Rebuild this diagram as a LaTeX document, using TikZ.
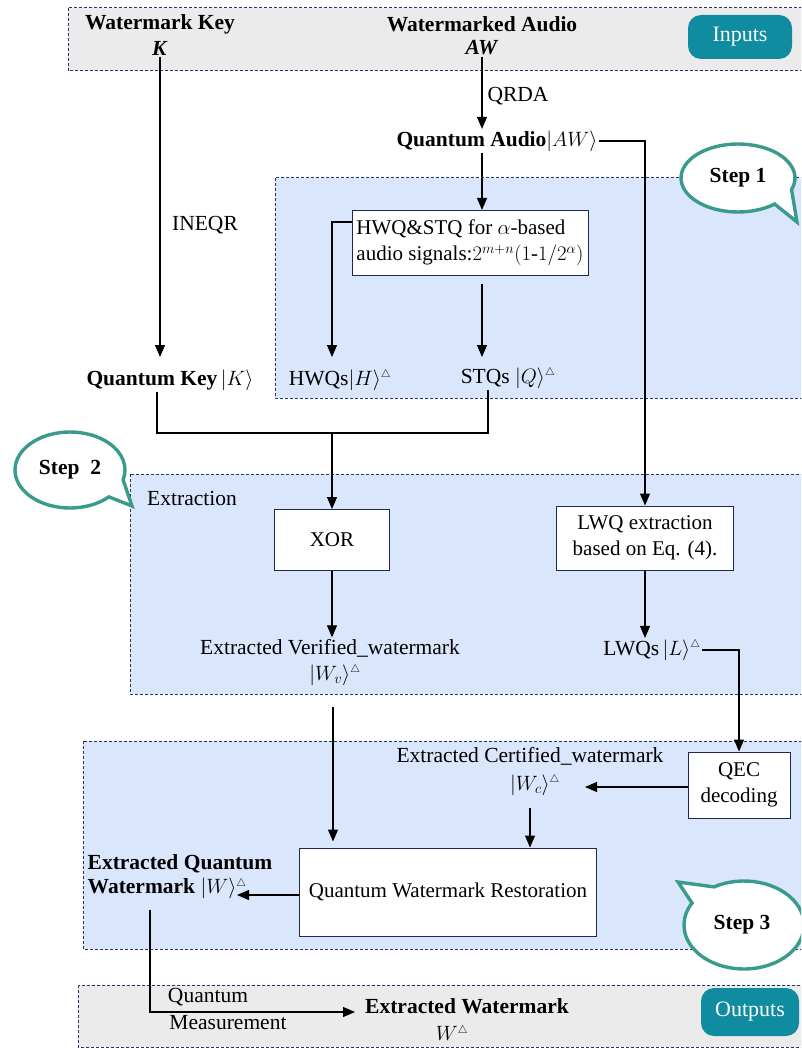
\documentclass[tikz,border=0pt]{standalone}
\usepackage{fontspec}
\setmainfont{Liberation Serif}
\usetikzlibrary{arrows.meta,calc}
\definecolor{bandgray}{RGB}{235,235,235}
\definecolor{bandblue}{RGB}{218,230,252}
\definecolor{navy}{RGB}{40,50,100}
\definecolor{boxc}{RGB}{30,40,85}
\definecolor{tealc}{RGB}{16,140,160}
\definecolor{bubc}{RGB}{58,155,140}
\tikzset{
  txt/.style={inner sep=1.5pt, font=\fontsize{21.5}{24}\selectfont},
  btxt/.style={inner sep=1.5pt, font=\fontsize{21.5}{24}\selectfont\bfseries},
  pbox/.style={draw=boxc, fill=white, line width=1pt, inner sep=2pt, align=center, font=\fontsize{21}{26}\selectfont},
  arr/.style={-{Triangle[length=12pt,width=10pt]}, line width=1.1pt},
  ln/.style={line width=1.1pt},
  band/.style={draw=navy, dash pattern=on 3pt off 2pt, line width=1pt},
  tagbox/.style={rounded corners=13pt, fill=tealc, text=white, inner sep=0pt, font=\fontsize{22}{24}\selectfont},
  bubble/.style={draw=bubc, line width=3.4pt, fill=white},
  steptxt/.style={font=\fontsize{21.5}{24}\selectfont\bfseries, inner sep=0pt}
}
\newcommand{\tri}{^{\scriptscriptstyle\triangle}}
\begin{document}
\begin{tikzpicture}[x=1pt,y=-1pt]
\useasboundingbox (0,0) rectangle (801,1048);
\clip (0,0) rectangle (801,1048);
% bands
\path[band, fill=bandgray] (68,8) rectangle (812,71);
\path[band, fill=bandblue] (275,178) rectangle (812,398);
\path[band, fill=bandblue] (130,474) rectangle (812,694);
\path[band, fill=bandblue] (83,741) rectangle (812,949);
\path[band, fill=bandgray] (78,985) rectangle (812,1047);

% inputs
\node[btxt] (wk) at (160,24) {Watermark Key};
\node[btxt] (K) at (160,48) {\textit{K}};
\node[btxt] (wa) at (482,24) {Watermarked Audio};
\node[btxt] (AW) at (482,48) {\textit{AW}};
\node[tagbox, minimum width=104pt, minimum height=44pt] (inputs) at (740,37) {Inputs};

\node[txt] (qrda) at (518,96) {QRDA};
\node[txt] (ineqr) at (205,225) {INEQR};
\node[btxt] (qa) at (497,141) {Quantum Audio$|AW\rangle$};

% step 1
\node[pbox, minimum width=236pt, minimum height=65pt, align=left, inner sep=3pt] (hwq) at (470,243)
  {HWQ\&STQ for $\alpha$-based\\audio signals:$2^{m+n}(1\mbox{-}1/2^{\alpha})$};
\node[btxt] (qk) at (170,380) {Quantum Key\,\mdseries$|K\rangle$};
\node[txt] (hq) at (340,380) {HWQs$|H\rangle\tri$};
\node[txt] (stq) at (508,378) {STQs $|Q\rangle\tri$};

% step 2
\node[txt] (extr) at (192,498) {Extraction};
\node[pbox, minimum width=115pt, minimum height=61pt] (xor) at (332,540) {XOR};
\node[pbox, minimum width=177pt, minimum height=64pt] (lwq) at (645,538) {LWQ extraction\\ based on Eq. (4).};
\node[txt] (wv) at (330,648) {Extracted Verified\_watermark};
\node[txt] (wvm) at (335,675) {$|W_v\rangle\tri$};
\node[txt] (lwqs) at (652,650) {LWQs$\,|L\rangle\tri$};

% step 3
\node[pbox, minimum width=102pt, minimum height=66pt] (qec) at (739,785) {QEC\\decoding};
\node[txt] (wc) at (530,756) {Extracted Certified\_watermark};
\node[txt] (wcm) at (535,785) {$|W_c\rangle\tri$};
\node[pbox, minimum width=297pt, minimum height=88pt] (rest) at (448,892) {Quantum Watermark Restoration};
\node[btxt, align=left, anchor=west] (eqw) at (86,877) {Extracted Quantum\\Watermark \mdseries$|W\rangle\tri$};

% outputs
\node[txt] (qm1) at (208,997) {Quantum};
\node[txt] (qm2) at (228,1023) {Measurement};
\node[btxt] (ew) at (467,1006) {Extracted Watermark};
\node[txt] (ewm) at (452,1033) {$W\tri$};
\node[tagbox, minimum width=98pt, minimum height=48pt] (outputs) at (750,1012) {Outputs};

% connectors
\coordinate (kq) at (160,357);
\draw[arr] (K.south) -- (kq);
\draw[arr] (AW.south) -- (AW.south |- qa.north);
\draw[ln] (qa.east) -| (645,180);
\draw[arr] (645,180) -- (lwq.north);
\draw[arr] (qa.south -| AW) -- (hwq.north -| AW);
\coordinate (hqt) at (332,357);
\draw[arr] ([yshift=21pt]hwq.west) -| (hqt);
\coordinate (sqt) at (482,357);
\draw[arr] ([yshift=-8pt]hwq.south -| AW) -- (sqt);
\coordinate (m1) at (157,433);
\coordinate (m2) at (488,433);
\draw[ln] (m1 |- qk.south) -- (m1) -- (m2) -- (m2 |- stq.south);
\draw[arr] (m1 -| xor) -- (xor.north);
\draw[arr] (xor.south) -- (xor.south |- wv.north);
\draw[arr] (lwq.south) -- (lwq.south |- lwqs.north);
\draw[arr] (lwqs.east) -| (qec.north);
\coordinate (wct) at (585,787);
\draw[arr] (qec.west |- wct) -- (wct);
\coordinate (wcb) at (530,808);
\draw[arr] (wcb) -- (wcb |- rest.north);
\coordinate (wvb) at (333,707);
\draw[arr] (wvb) -- ([yshift=6pt]wvb |- rest.north);
\coordinate (eqa) at (237,895);
\draw[arr] (rest.west |- eqa) -- (eqa);
\coordinate (qmc) at (150,1012);
\coordinate (qme) at (355,1012);
\draw[arr] (150,910) -- (qmc) -- (qme);

% bubbles
\path[bubble] (738,178) ++(50:57 and 34) arc[start angle=50, end angle=380, x radius=57, y radius=34] -- (797,222) -- cycle;
\node[steptxt] (s1) at (738,178) {Step 1};
\path[bubble] (70,470) ++(45:55 and 38) arc[start angle=45, end angle=375, x radius=55, y radius=38] -- (132,506) -- cycle;
\node[steptxt] (s2) at (70,470) {Step\ \ 2};
\path[bubble] (744,925) ++(-120:60 and 44) arc[start angle=-120, end angle=210, x radius=60, y radius=44] -- (678,882) -- cycle;
\node[steptxt] (s3) at (742,925) {Step 3};
\end{tikzpicture}
\end{document}
